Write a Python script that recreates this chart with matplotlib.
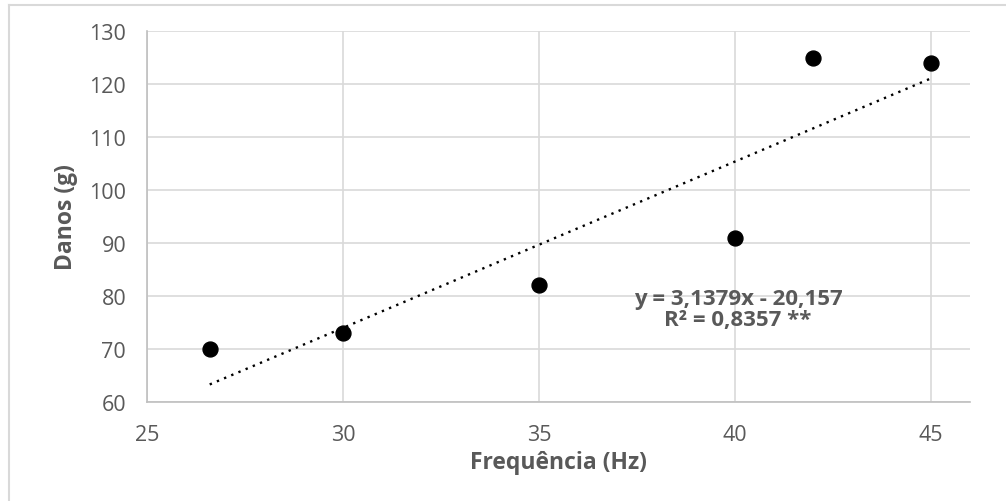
import numpy as np
import matplotlib
matplotlib.use("Agg")
import matplotlib.pyplot as plt
from matplotlib.lines import Line2D

freq = [26.6, 30, 35, 40, 42, 45]
danos = [70, 73, 82, 91, 125, 124]
x_ticks = [25, 30, 35, 40, 45]
y_ticks = [60, 70, 80, 90, 100, 110, 120, 130]
eq_text = "y = 3,1379x - 20,157\nR² = 0,8357 **"

plt.rcParams['font.family'] = ['Open Sans', 'DejaVu Sans']
txt = '#595959'

fig = plt.figure(figsize=(10.06, 5.02), dpi=100)
ax = fig.add_axes([147/1006, 1-403/502, (970-147)/1006, (403-32)/502])

# outer chart border (top and left visible)
fig.add_artist(Line2D([9/1006, 1.0], [1-6/502, 1-6/502], transform=fig.transFigure, color='#d9d9d9', lw=1.5))
fig.add_artist(Line2D([9/1006, 9/1006], [0, 1-6/502], transform=fig.transFigure, color='#d9d9d9', lw=1.5))

ax.set_xlim(25, 46)
ax.set_ylim(60, 130)
ax.set_xticks(x_ticks)
ax.set_yticks(y_ticks)
ax.grid(True, color='#d9d9d9', lw=1.2)
ax.set_axisbelow(True)
for s in ['top', 'right']:
    ax.spines[s].set_visible(False)
for s in ['left', 'bottom']:
    ax.spines[s].set_color('#bfbfbf')
    ax.spines[s].set_linewidth(1.2)
ax.tick_params(length=0, labelsize=15.5, colors=txt)
ax.tick_params(axis='x', pad=16)
ax.tick_params(axis='y', pad=15)

# trendline
coef = np.polyfit(freq, danos, 1)
xt = np.array([min(freq), max(freq)])
ax.plot(xt, np.polyval(coef, xt), color='black', lw=1.7,
        linestyle=(0, (1, 2.3)), zorder=2)

ax.scatter(freq, danos, s=115, color='black', zorder=3)

ax.set_xlabel('Frequência (Hz)', fontsize=16.5, fontweight='bold', color=txt)
ax.set_ylabel('Danos (g)', fontsize=16.5, fontweight='bold', color=txt)
ax.xaxis.label.set_va('center')
ax.xaxis.set_label_coords(0.5, (403-463)/371)
ax.yaxis.label.set_va('center')
ax.yaxis.set_label_coords((66-147)/823, 0.5)

ax.text(738/1006, 1-310/502, eq_text, transform=fig.transFigure, ha='center', va='center',
        fontsize=16, fontweight='bold', color=txt, linespacing=1.05)

fig.savefig('out.png', dpi=100)
